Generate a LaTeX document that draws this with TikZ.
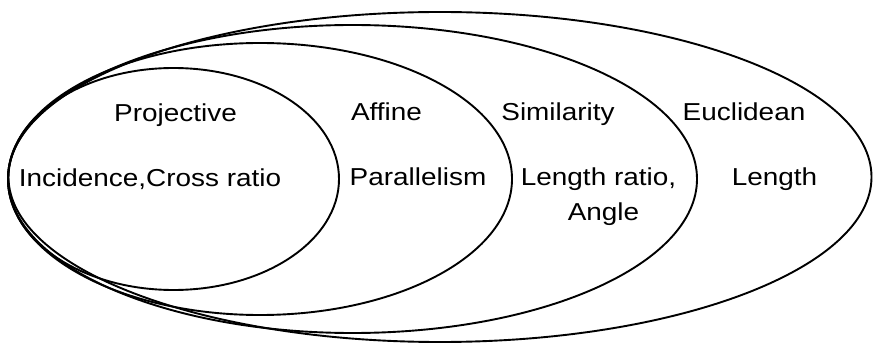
\documentclass[tikz,border=0pt]{standalone}
\usepackage{fontspec}
\newfontfamily\lblfont[FakeStretch=1.14]{Liberation Sans}
\tikzset{
  ring/.style={draw=black, line width=1.9pt},
  lbl/.style={font=\lblfont\fontsize{24.5}{28}\selectfont, inner sep=0pt, anchor=base, text=black}
}
\begin{document}
\begin{tikzpicture}[x=1pt,y=-1pt]
\useasboundingbox (0,0) rectangle (874,344);
% nested ellipses
\draw[ring] (440,177) ellipse [x radius=431.5pt, y radius=165pt];
\draw[ring] (352.5,179) ellipse [x radius=344.5pt, y radius=154pt];
\draw[ring] (260,179) ellipse [x radius=252pt, y radius=136pt];
\draw[ring] (173.5,179) ellipse [x radius=165.5pt, y radius=111pt];
% labels
\node[lbl] (proj) at (175.5,122) {Projective};
\node[lbl] (inc) at (150,187) {Incidence,Cross ratio};
\node[lbl] (aff) at (386.5,121) {Affine};
\node[lbl] (par) at (418,186) {Parallelism};
\node[lbl] (sim) at (558,121) {Similarity};
\node[lbl] (lr) at (598.5,186) {Length ratio,};
\node[lbl] (ang) at (603.5,221) {Angle};
\node[lbl] (euc) at (744,121) {Euclidean};
\node[lbl] (len) at (774.5,186) {Length};
\end{tikzpicture}
\end{document}
